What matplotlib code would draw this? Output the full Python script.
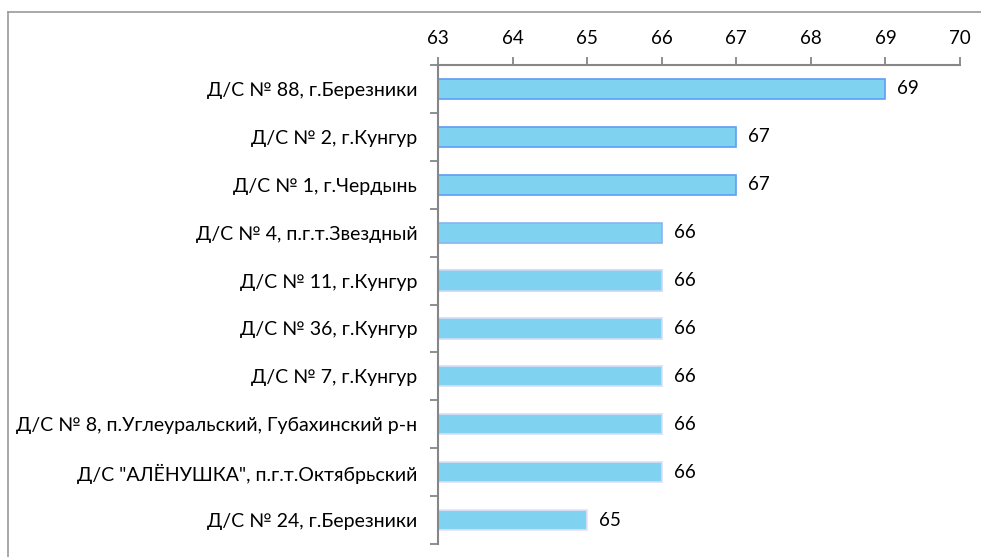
import matplotlib
matplotlib.use("Agg")
import matplotlib.pyplot as plt
from matplotlib.lines import Line2D
import numpy as np

# data (top to bottom as in the picture)
names = [
    "Д/С № 88, г.Березники",
    "Д/С № 2, г.Кунгур",
    "Д/С № 1, г.Чердынь",
    "Д/С № 4, п.г.т.Звездный",
    "Д/С № 11, г.Кунгур",
    "Д/С № 36, г.Кунгур",
    "Д/С № 7, г.Кунгур",
    "Д/С № 8, п.Углеуральский, Губахинский р-н",
    "Д/С \"АЛЁНУШКА\", п.г.т.Октябрьский",
    "Д/С № 24, г.Березники",
]
values = [69, 67, 67, 66, 66, 66, 66, 66, 66, 65]
x_ticks = [63, 64, 65, 66, 67, 68, 69, 70]

plt.rcParams["font.family"] = ["Lato", "DejaVu Sans"]

fig = plt.figure(figsize=(9.81, 5.57), dpi=100)
ax = fig.add_axes([438 / 981, 1 - 544 / 557, (960 - 438) / 981, (544 - 65) / 557])

grey = "#868686"
edges = ["#5f9df5", "#5f9df5", "#5f9df5", "#8ab4f2",
         "#c9d7f5", "#d6dcf7", "#dcdcf7", "#dcdcf7", "#e0dcf7", "#e6e0f7"]
ypos = np.arange(len(names))
ax.barh(ypos, np.array(values) - 63, left=63, height=0.42,
        color="#80d3f0", edgecolor=edges, linewidth=1.2, zorder=2)

for y, v in zip(ypos, values):
    ax.text(v + 0.16, y, str(v), ha="left", va="center", fontsize=13.5)

ax.set_xlim(63, 70)
ax.set_ylim(len(names) - 0.5, -0.5)
ax.xaxis.tick_top()
ax.set_xticks(x_ticks)
ax.tick_params(axis="x", direction="out", length=6, width=1.3, color=grey,
               labelsize=13.5, pad=7)
ax.set_yticks(ypos)
ax.set_yticklabels(names)
ax.set_yticks(np.arange(-0.5, len(names)), minor=True)
ax.tick_params(axis="y", which="major", length=0, labelsize=14, pad=15)
ax.tick_params(axis="y", which="minor", direction="out", length=6, width=1.3,
               color=grey)

for s in ["right", "bottom"]:
    ax.spines[s].set_visible(False)
for s in ["top", "left"]:
    ax.spines[s].set_color(grey)
    ax.spines[s].set_linewidth(1.5)

# outer frame of the chart area (cropped at right and bottom)
fig.add_artist(Line2D([8 / 981, 8 / 981], [0, 1 - 12 / 557],
                      transform=fig.transFigure, color="#9a9a9a", lw=1.2))
fig.add_artist(Line2D([8 / 981, 1], [1 - 12 / 557, 1 - 12 / 557],
                      transform=fig.transFigure, color="#9a9a9a", lw=1.2))

fig.savefig("out.png", dpi=100, facecolor="white")
